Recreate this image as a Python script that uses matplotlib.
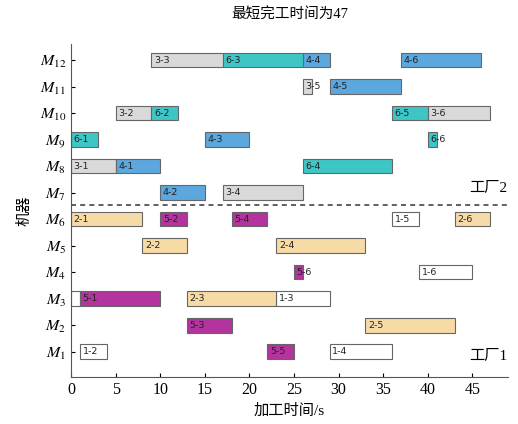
import matplotlib.pyplot as plt

plt.rcParams['font.family'] = ['Liberation Serif', 'Noto Sans CJK SC']
plt.rcParams['mathtext.fontset'] = 'stix'

# 工序数据: 标签, 机器, 开始, 结束
ops = ['1-1', '1-2', '1-3', '1-4', '1-5', '1-6',
       '2-1', '2-2', '2-3', '2-4', '2-5', '2-6',
       '3-1', '3-2', '3-3', '3-4', '3-5', '3-6',
       '4-1', '4-2', '4-3', '4-4', '4-5', '4-6',
       '5-1', '5-2', '5-3', '5-4', '5-5', '5-6',
       '6-1', '6-2', '6-3', '6-4', '6-5', '6-6']
machines = [3, 1, 3, 1, 6, 4,
            6, 5, 3, 5, 2, 6,
            8, 10, 12, 7, 11, 10,
            8, 7, 9, 12, 11, 12,
            3, 6, 2, 6, 1, 4,
            9, 10, 12, 8, 10, 9]
starts = [0, 1, 23, 29, 36, 39,
          0, 8, 13, 23, 33, 43,
          0, 5, 9, 17, 26, 40,
          5, 10, 15, 26, 29, 37,
          1, 10, 13, 18, 22, 25,
          0, 9, 17, 26, 36, 40]
ends = [1, 4, 29, 36, 39, 45,
        8, 13, 23, 33, 43, 47,
        5, 9, 17, 26, 27, 47,
        10, 15, 20, 29, 37, 46,
        10, 13, 18, 22, 25, 26,
        3, 12, 26, 36, 40, 41]
hidden_labels = ['1-1']  # 图中被遮住的标签
job_colors = {'1': '#ffffff', '2': '#f7dba6', '3': '#d9d9d9',
              '4': '#5ca7de', '5': '#b3349f', '6': '#3ec6c6'}
makespan = 47

fig, ax = plt.subplots(figsize=(5.18, 4.24), dpi=100)
fig.subplots_adjust(left=0.137, right=0.981, bottom=0.111, top=0.896)

for op, m, s, e in zip(ops, machines, starts, ends):
    ax.barh(m, e - s, left=s, height=0.55, color=job_colors[op[0]],
            edgecolor='#666666', linewidth=0.8, zorder=2)
    if op not in hidden_labels:
        ax.text(s + 0.3, m, op, fontsize=6.8, family='DejaVu Sans',
                va='center', ha='left', color='#222222', zorder=3)

# 工厂分界线
ax.axhline(6.55, color='#444444', linestyle=(0, (3, 2.5)), linewidth=1.2)
ax.text(44.6, 7.2, '工厂2', fontsize=11, va='center', ha='left', clip_on=False)
ax.text(44.6, 0.85, '工厂1', fontsize=11, va='center', ha='left', clip_on=False)

ax.set_xlim(0, 49)
ax.set_ylim(0.05, 12.6)
ax.set_xticks(range(0, 50, 5))
ax.set_yticks(range(1, 13))
ax.set_yticklabels([r'$M_{%d}$' % i for i in range(1, 13)])
ax.tick_params(direction='in', labelsize=11.5, length=3)
ax.spines['top'].set_visible(False)
ax.spines['right'].set_visible(False)
for sp in ['left', 'bottom']:
    ax.spines[sp].set_color('#555555')

ax.set_xlabel('加工时间/s', fontsize=11, labelpad=4)
ax.set_ylabel('机器', fontsize=11, labelpad=6)
ax.set_title('最短完工时间为%d' % makespan, fontsize=10.5, pad=18)

plt.savefig('out.png', dpi=100)
